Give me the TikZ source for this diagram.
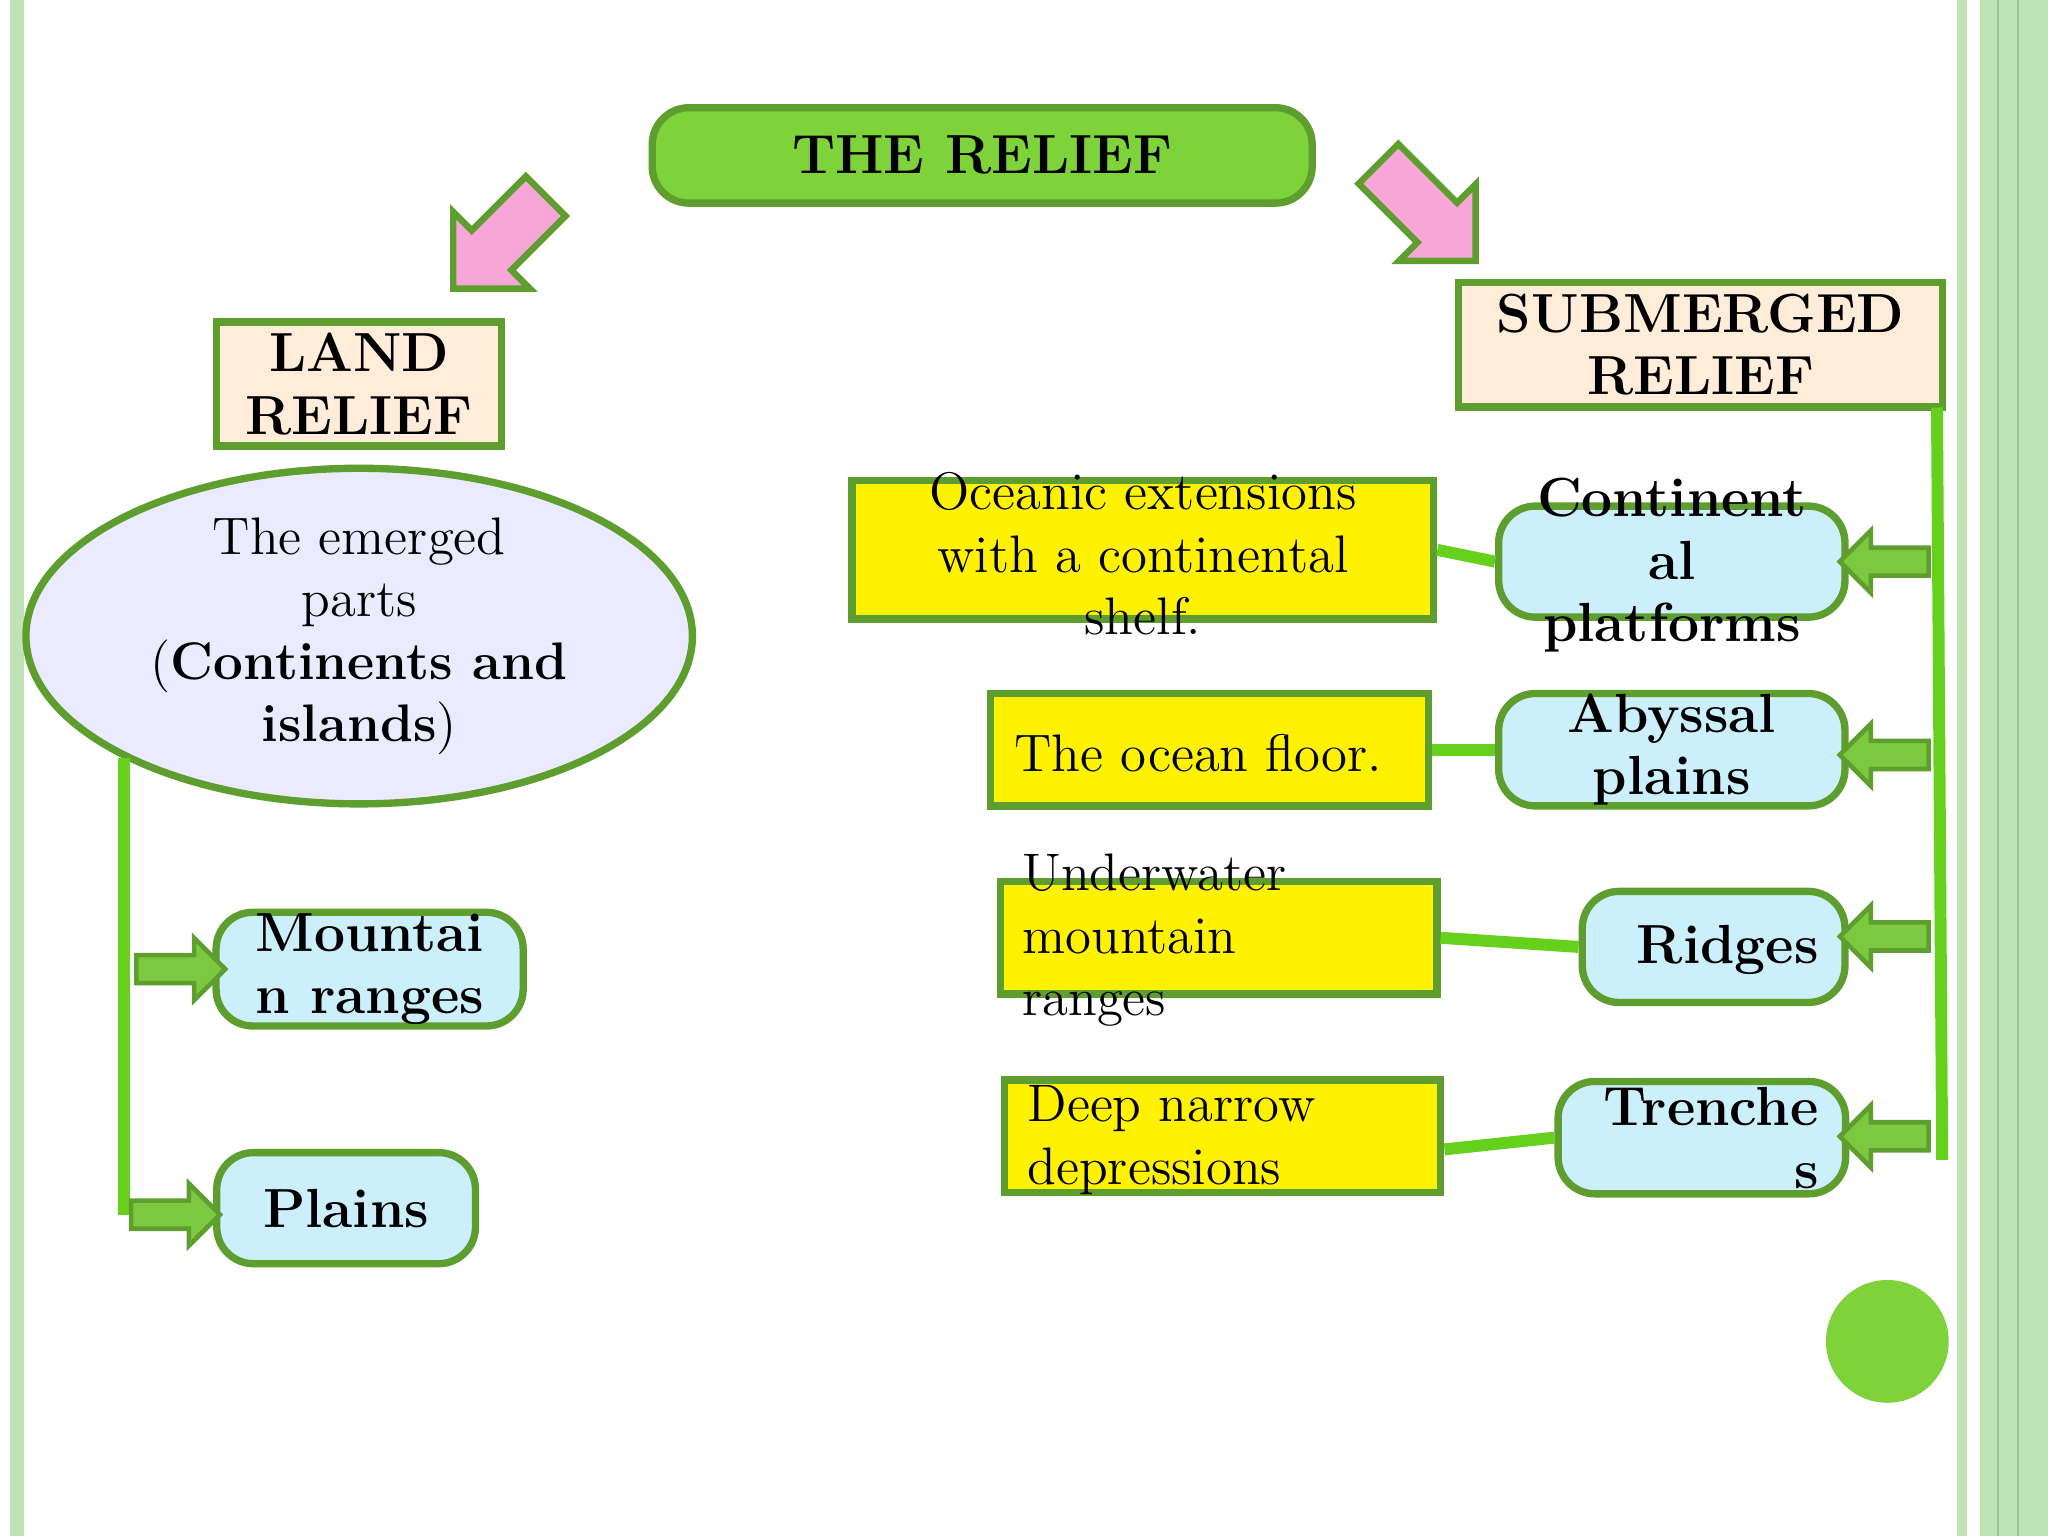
\documentclass[tikz,border=0pt]{standalone}
\usetikzlibrary{shapes.geometric,shapes.arrows}
\definecolor{bord}{HTML}{5E9E2E}
\definecolor{tgreen}{HTML}{7ED23A}
\definecolor{lgreen}{HTML}{66D11C}
\definecolor{agreen}{HTML}{7CC840}
\definecolor{side}{HTML}{BFE3B4}
\begin{document}
\begin{tikzpicture}[x=0.01cm,y=-0.01cm,
 gb/.style={draw=bord,line width=1.6pt},
 cy/.style={gb,fill=cyan!20,rounded corners=8pt},
 ye/.style={gb,fill=yellow},
 cr/.style={gb,fill=orange!15},
 tx/.style={font=\fontsize{11.5}{13.6}\selectfont,align=center,inner sep=0},
 bt/.style={font=\fontsize{12}{13.6}\selectfont\bfseries,align=center,inner sep=0},
 ln/.style={draw=lgreen,line width=2.6pt},
 barr/.style={single arrow,draw=bord,fill=agreen,line width=1pt,minimum height=0.68cm,single arrow head extend=0.13cm,inner sep=0},
 parr/.style={single arrow,draw=bord,fill=magenta!35,line width=1.4pt,single arrow head extend=0.2cm,inner sep=0}]
\useasboundingbox (0,0) rectangle (1568,1176);
\fill[side] (8,0) rectangle (18,1176);
\fill[side] (1498,0) rectangle (1506,1176);
\fill[side] (1516,0) rectangle (1568,1176);
\draw[green!40!black!40] (1530,0)--(1530,1176) (1545,0)--(1545,1176);
% title
\node[gb,fill=tgreen,rounded corners=8pt,minimum width=5.05cm,minimum height=0.73cm,bt] (rel) at (752,119) {THE RELIEF};
\node[parr,minimum height=1cm,rotate=225] (pa) at (390,178) {\rule{0pt}{0.38cm}};
\node[parr,minimum height=1.05cm,rotate=-45] (pb) at (1085,155) {\rule{0pt}{0.38cm}};
% left
\node[cr,minimum width=2.18cm,minimum height=0.95cm,bt] (land) at (275,294) {LAND\\RELIEF};
\node[ellipse,gb,fill=blue!8,minimum width=5.1cm,minimum height=2.56cm,font=\fontsize{11.5}{13.6}\selectfont,align=center,inner sep=0] (emer) at (275,487) {The emerged\\parts\\(\textbf{Continents and}\\\textbf{islands})};
\coordinate (l1) at (95,580); \coordinate (l2) at (95,930);
\draw[ln] (l1)--(l2);
\node[cy,minimum width=2.35cm,minimum height=0.87cm,bt] (mr) at (283,742) {Mountai\\n ranges};
\node[cy,minimum width=1.98cm,minimum height=0.85cm,bt] (pl) at (265,925) {Plains};
\node[barr] at (133,742) {\rule{0pt}{0.18cm}};
\node[barr] at (129,930) {\rule{0pt}{0.18cm}};
% right
\node[cr,minimum width=3.7cm,minimum height=0.95cm,bt] (sub) at (1302,264) {SUBMERGED\\RELIEF};
\coordinate (r1) at (1483,312); \coordinate (r2) at (1487,888);
\draw[ln] (r1)--(r2);
\node[cy,minimum width=2.65cm,minimum height=0.85cm] (cp) at (1280,430) {};
\node[bt] at (1280,433) {Continent\\al\\platforms};
\node[cy,minimum width=2.65cm,minimum height=0.86cm,bt] (ab) at (1280,574) {Abyssal\\plains};
\node[cy,minimum width=2.01cm,minimum height=0.85cm] (ri) at (1312,725) {};
\node[bt,anchor=east] at (1393,727) {Ridges};
\node[cy,minimum width=2.2cm,minimum height=0.86cm] (tr) at (1303,871) {};
\node[bt,align=right,anchor=north east] at (1393,832) {Trenche\\s};
\foreach \y in {430,578,717,870}{\node[barr,rotate=180] at (1448,\y) {\rule{0pt}{0.18cm}};}
\node[ye,minimum width=4.45cm,minimum height=1.06cm] (y1) at (875,421) {};
\node[tx] at (875,424) {Oceanic extensions\\with a continental\\shelf.};
\node[ye,minimum width=3.35cm,minimum height=0.86cm] (y2) at (926,574) {};
\node[tx,anchor=west] at (776,577) {The ocean floor.};
\node[ye,minimum width=3.34cm,minimum height=0.86cm] (y3) at (933,718) {};
\node[tx,anchor=west,align=left] at (782,720) {Underwater\\mountain\\ranges};
\node[ye,minimum width=3.34cm,minimum height=0.86cm] (y4) at (936,870) {};
\node[tx,anchor=west,align=left] at (786,873) {Deep narrow\\depressions};
\draw[ln] (y1.east)--(cp.west);
\draw[ln] (y2.east)--(ab.west);
\draw[ln] (y3.east)--(ri.west);
\draw[ln] ([yshift=-0.1cm]y4.east)--(tr.west);
\fill[tgreen] (1445,1027) circle (47);
\end{tikzpicture}
\end{document}
